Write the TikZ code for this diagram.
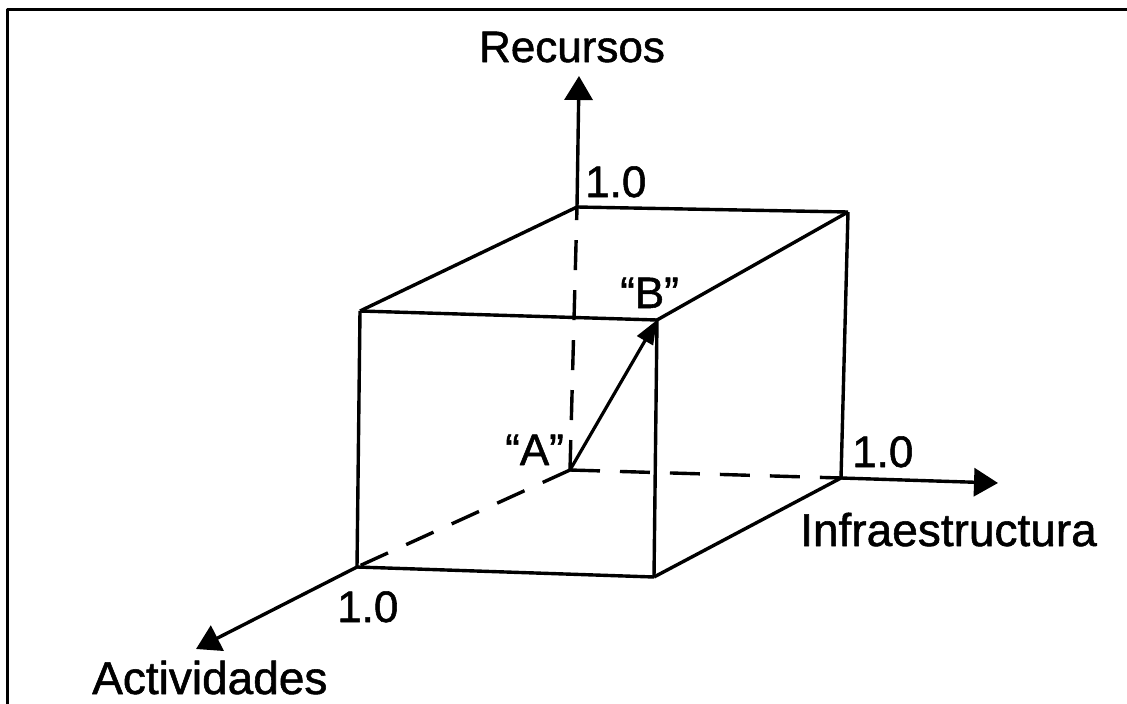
\documentclass[tikz,border=0pt]{standalone}
\usepackage{fontspec}
\setmainfont[FakeBold=1.2]{Liberation Sans}
\usetikzlibrary{arrows.meta}
\begin{document}
\begin{tikzpicture}
  [x=1pt, y=-1pt, line join=round,
   edge/.style={line width=3.4pt},
   hidden/.style={line width=3.4pt, dash pattern=on 30pt off 20pt},
   axis/.style={line width=3.4pt, -{Triangle[length=24pt,width=28pt]}},
   move/.style={line width=3.2pt, -{Triangle[length=24pt,width=18pt]}},
   lbl/.style={anchor=base west, inner sep=0pt, font=\fontsize{44}{48}\selectfont}]

  \useasboundingbox (0,0) rectangle (1127,704);
  \draw[line width=3pt] (7.5,720) -- (7.5,9.5) -- (1140,9.5);

  \coordinate (o) at (570,470);
  \coordinate (btl) at (577,207);
  \coordinate (btr) at (848,212);
  \coordinate (bbr) at (841,478);
  \coordinate (ftl) at (360,311);
  \coordinate (ftr) at (657,320);
  \coordinate (fbr) at (654,577);
  \coordinate (fbl) at (357,567);
  \coordinate (xend) at (998,483);
  \coordinate (yend) at (579,76);
  \coordinate (zend) at (196,649);

  \foreach \from/\to in {ftl/ftr, ftr/fbr, fbr/fbl, fbl/ftl, ftl/btl, btl/btr, btr/ftr, btr/bbr, bbr/fbr}
    \draw[edge] (\from) -- (\to);

  \foreach \to in {btl, bbr, fbl}
    \draw[hidden] (o) -- (\to);

  \draw[axis] (btl) -- (yend);
  \draw[axis] (bbr) -- (xend);
  \draw[axis] (fbl) -- (zend);
  \draw[move] (o) -- (ftr);

  \node[lbl, anchor=base] (rec) at (572,62) {Recursos};
  \node[lbl] (y1) at (585,197) {1.0};
  \node[lbl] (b) at (620,308) {“B”};
  \node[lbl] (a) at (505,465) {“A”};
  \node[lbl] (x1) at (852,467) {1.0};
  \node[lbl, font=\fontsize{46}{50}\selectfont] (inf) at (800,546) {Infraestructura};
  \node[lbl] (z1) at (337,622) {1.0};
  \node[lbl, font=\fontsize{46}{50}\selectfont] (act) at (92,694) {Actividades};
\end{tikzpicture}
\end{document}
